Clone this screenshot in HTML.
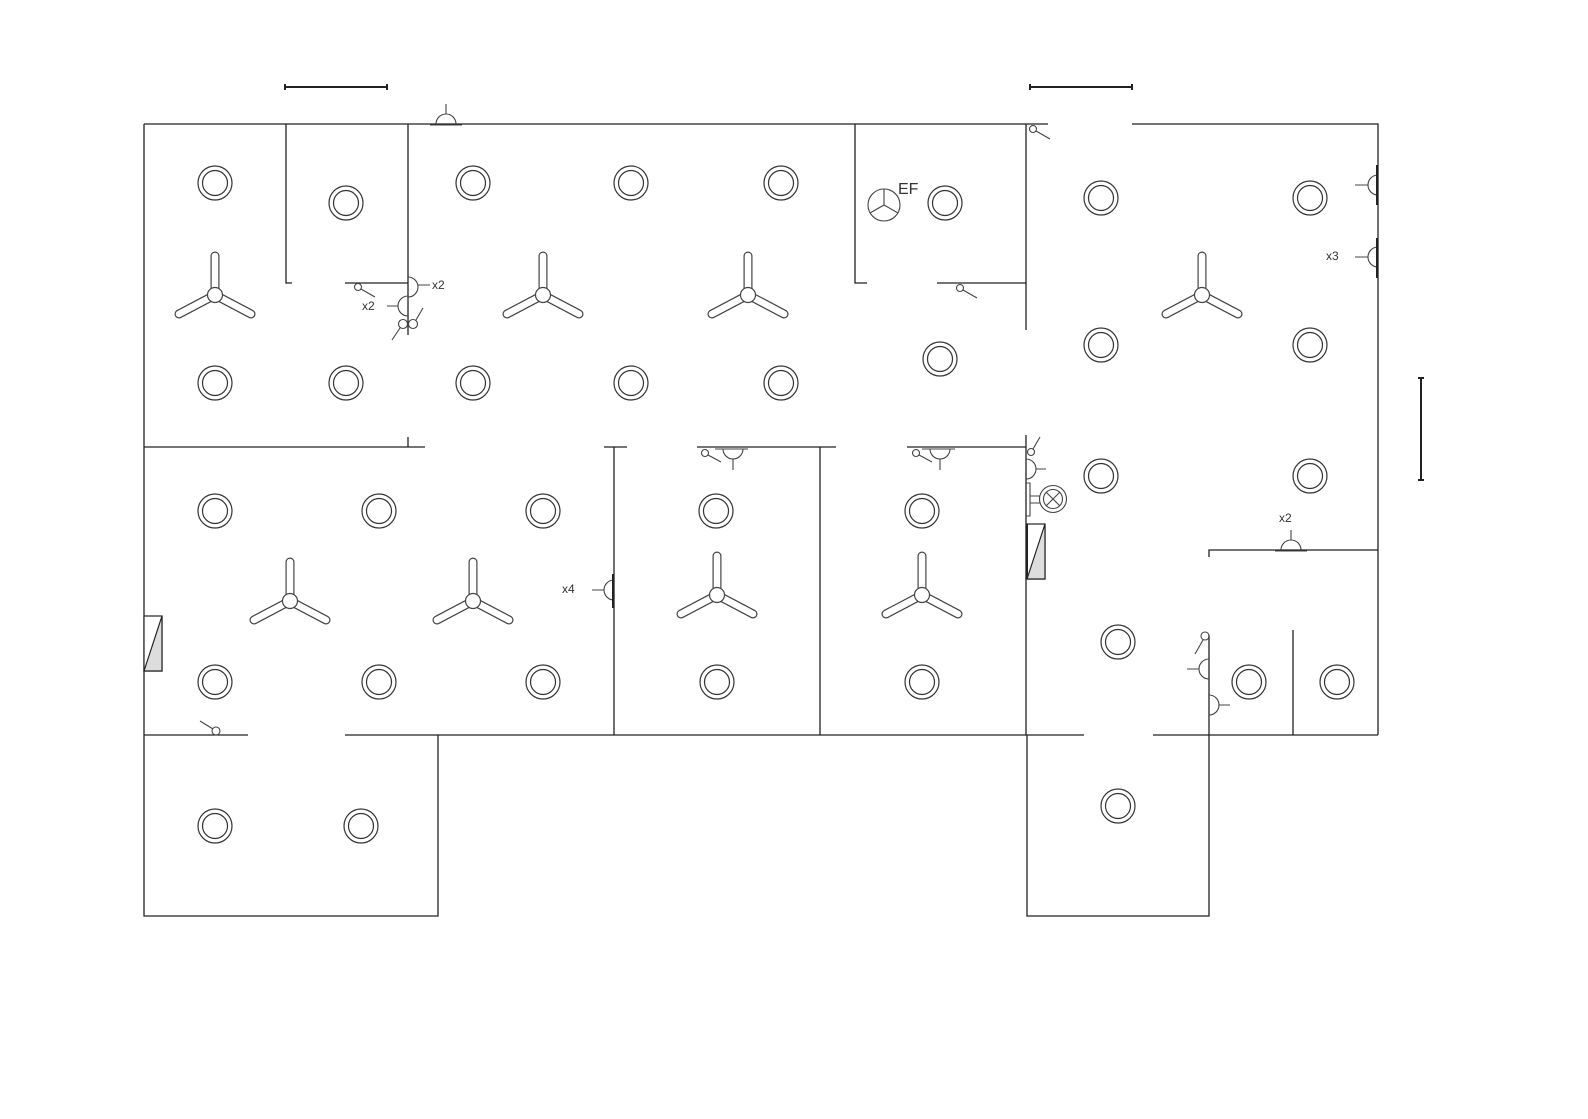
<!DOCTYPE html>
<html><head><meta charset="utf-8"><style>html,body{margin:0;padding:0;background:#fff}svg{display:block}</style></head>
<body>
<svg width="1588" height="1119" viewBox="0 0 1588 1119" xmlns="http://www.w3.org/2000/svg">
<defs>
<g id="light"><circle r="17" fill="#fff" stroke="#333" stroke-width="1.2"/><circle r="12.5" fill="none" stroke="#333" stroke-width="1.2"/></g>
<g id="fan">
 <g stroke="#444" stroke-width="9" stroke-linecap="round">
  <line x1="0" y1="0" x2="0" y2="-39"/><line x1="0" y1="0" x2="-36" y2="19"/><line x1="0" y1="0" x2="36" y2="19"/>
 </g>
 <g stroke="#fff" stroke-width="6.6" stroke-linecap="round">
  <line x1="0" y1="0" x2="0" y2="-39"/><line x1="0" y1="0" x2="-36" y2="19"/><line x1="0" y1="0" x2="36" y2="19"/>
 </g>
 <circle r="7.5" fill="#fff" stroke="#444" stroke-width="1.2"/>
</g>
</defs>
<g fill="none" stroke="#222" stroke-width="1.3">
<!-- scale bars -->
<path d="M285 87H387M285 84V90M387 84V90M1030 87H1132M1030 84V90M1132 84V90M1421 378V480M1418 378H1424M1418 480H1424" stroke-width="2"/>
<!-- walls -->
<path d="M144 124H1048M1132 124H1378V735M144 124V916H438V735M144 735H248M345 735H1084M1153 735H1378"/>
<path d="M144 447H425M604 447H627M697 447H836M907 447H1026"/>
<path d="M286 124V283H292M408 124V335M408 437V447M345 283H408"/>
<path d="M855 124V283H867M937 283H1026M1026 124V330M1026 435V735"/>
<path d="M614 447V735M820 447V735"/>
<path d="M1027 735V916H1209V635M1209 557V550H1378M1293 630V735"/>
</g>
<!-- lights -->
<g>
<use href="#light" x="215" y="183"/><use href="#light" x="346" y="203"/><use href="#light" x="473" y="183"/><use href="#light" x="631" y="183"/><use href="#light" x="781" y="183"/><use href="#light" x="945" y="203"/><use href="#light" x="1101" y="198"/><use href="#light" x="1310" y="198"/>
<use href="#light" x="215" y="383"/><use href="#light" x="346" y="383"/><use href="#light" x="473" y="383"/><use href="#light" x="631" y="383"/><use href="#light" x="781" y="383"/><use href="#light" x="940" y="359"/><use href="#light" x="1101" y="345"/><use href="#light" x="1310" y="345"/>
<use href="#light" x="215" y="511"/><use href="#light" x="379" y="511"/><use href="#light" x="543" y="511"/><use href="#light" x="716" y="511"/><use href="#light" x="922" y="511"/><use href="#light" x="1101" y="476"/><use href="#light" x="1310" y="476"/>
<use href="#light" x="215" y="682"/><use href="#light" x="379" y="682"/><use href="#light" x="543" y="682"/><use href="#light" x="717" y="682"/><use href="#light" x="922" y="682"/><use href="#light" x="1118" y="642"/><use href="#light" x="1249" y="682"/><use href="#light" x="1337" y="682"/>
<use href="#light" x="215" y="826"/><use href="#light" x="361" y="826"/><use href="#light" x="1118" y="806"/>
</g>
<!-- fans -->
<use href="#fan" x="215" y="295"/><use href="#fan" x="543" y="295"/><use href="#fan" x="748" y="295"/><use href="#fan" x="1202" y="295"/>
<use href="#fan" x="290" y="601"/><use href="#fan" x="473" y="601"/><use href="#fan" x="717" y="595"/><use href="#fan" x="922" y="595"/>
<!-- symbols -->
<g fill="none" stroke="#444" stroke-width="1.1">
 <!-- top outlet -->
 <path d="M436 124a10 10 0 0 1 20 0M446 114V104M430 125H462"/>
 <!-- x2 left room switches -->
 <path d="M408 277a10 10 0 0 1 0 20M418 285H430"/>
 <path d="M408 296a10 10 0 0 0 0 20M398 306H387"/>
 <circle cx="403" cy="324" r="4.5"/><circle cx="413" cy="324" r="4.5"/>
 <path d="M400 328L392 340M416 320L423 308"/>
 <circle cx="358" cy="287" r="3.5"/><path d="M361 289L375 297"/>
 <!-- EF -->
 <circle cx="884" cy="205" r="16"/><path d="M884 189V205L870 213M884 205L898 213"/>
 <circle cx="960" cy="288" r="3.5"/><path d="M963 290L977 298"/>
 <circle cx="1033" cy="129" r="3.5"/><path d="M1036 131L1050 139"/>
 <!-- right wall x3 -->
 <path d="M1378 175a10 10 0 0 0 0 20M1368 185H1355"/>
 <path d="M1378 247a10 10 0 0 0 0 20M1368 257H1355"/>
 <path d="M1377 165V205M1377 238V278" stroke="#222" stroke-width="2"/>
 <!-- mid room fixtures -->
 <path d="M723 449a10 10 0 0 0 20 0M733 459V470M715 449H748"/>
 <circle cx="705" cy="453" r="3.5"/><path d="M708 455L721 462"/>
 <path d="M930 449a10 10 0 0 0 20 0M940 459V470M922 449H955"/>
 <circle cx="916" cy="453" r="3.5"/><path d="M919 455L932 462"/>
 <!-- 1026 column -->
 <circle cx="1031" cy="452" r="3.5"/><path d="M1033 449L1040 437"/>
 <path d="M1026 459a10 10 0 0 1 0 20M1036 469H1046"/>
 <path d="M1026 483H1030V516H1026M1030 496H1040M1030 503H1040"/>
 <circle cx="1053" cy="499" r="13.5"/><circle cx="1053" cy="499" r="9.5"/><path d="M1046 492L1060 506M1060 492L1046 506"/>
 <!-- x4 -->
 <path d="M614 580a10 10 0 0 0 0 20M604 590H592"/>
 <path d="M613 574V608" stroke="#222" stroke-width="2"/>
 <!-- x2 bottom right -->
 <path d="M1281 550a10 10 0 0 1 20 0M1291 540V530M1275 551H1307"/>
 <circle cx="1205" cy="636" r="4"/><path d="M1203 640L1195 654"/>
 <path d="M1209 659a10 10 0 0 0 0 20M1199 669H1187"/>
 <path d="M1209 695a10 10 0 0 1 0 20M1219 705H1230"/>
 <circle cx="216" cy="731" r="4"/><path d="M213 729L200 721"/>
</g>
<!-- panels -->
<g stroke="#222" stroke-width="1.2">
 <rect x="144" y="616" width="18" height="55" fill="#fff"/><path d="M144 671L162 616V671Z" fill="#ddd"/>
 <rect x="1027" y="524" width="18" height="55" fill="#fff"/><path d="M1027 579L1045 524V579Z" fill="#ddd"/>
</g>
<path d="M1027 524V579" stroke="#222" stroke-width="2"/>
<g font-family="Liberation Sans, sans-serif" fill="#333" font-size="12">
 <text x="432" y="289">x2</text><text x="362" y="310">x2</text>
 <text x="1326" y="260">x3</text><text x="562" y="593">x4</text><text x="1279" y="522">x2</text>
 <text x="898" y="194" font-size="16">EF</text>
</g>
</svg>
</body></html>
